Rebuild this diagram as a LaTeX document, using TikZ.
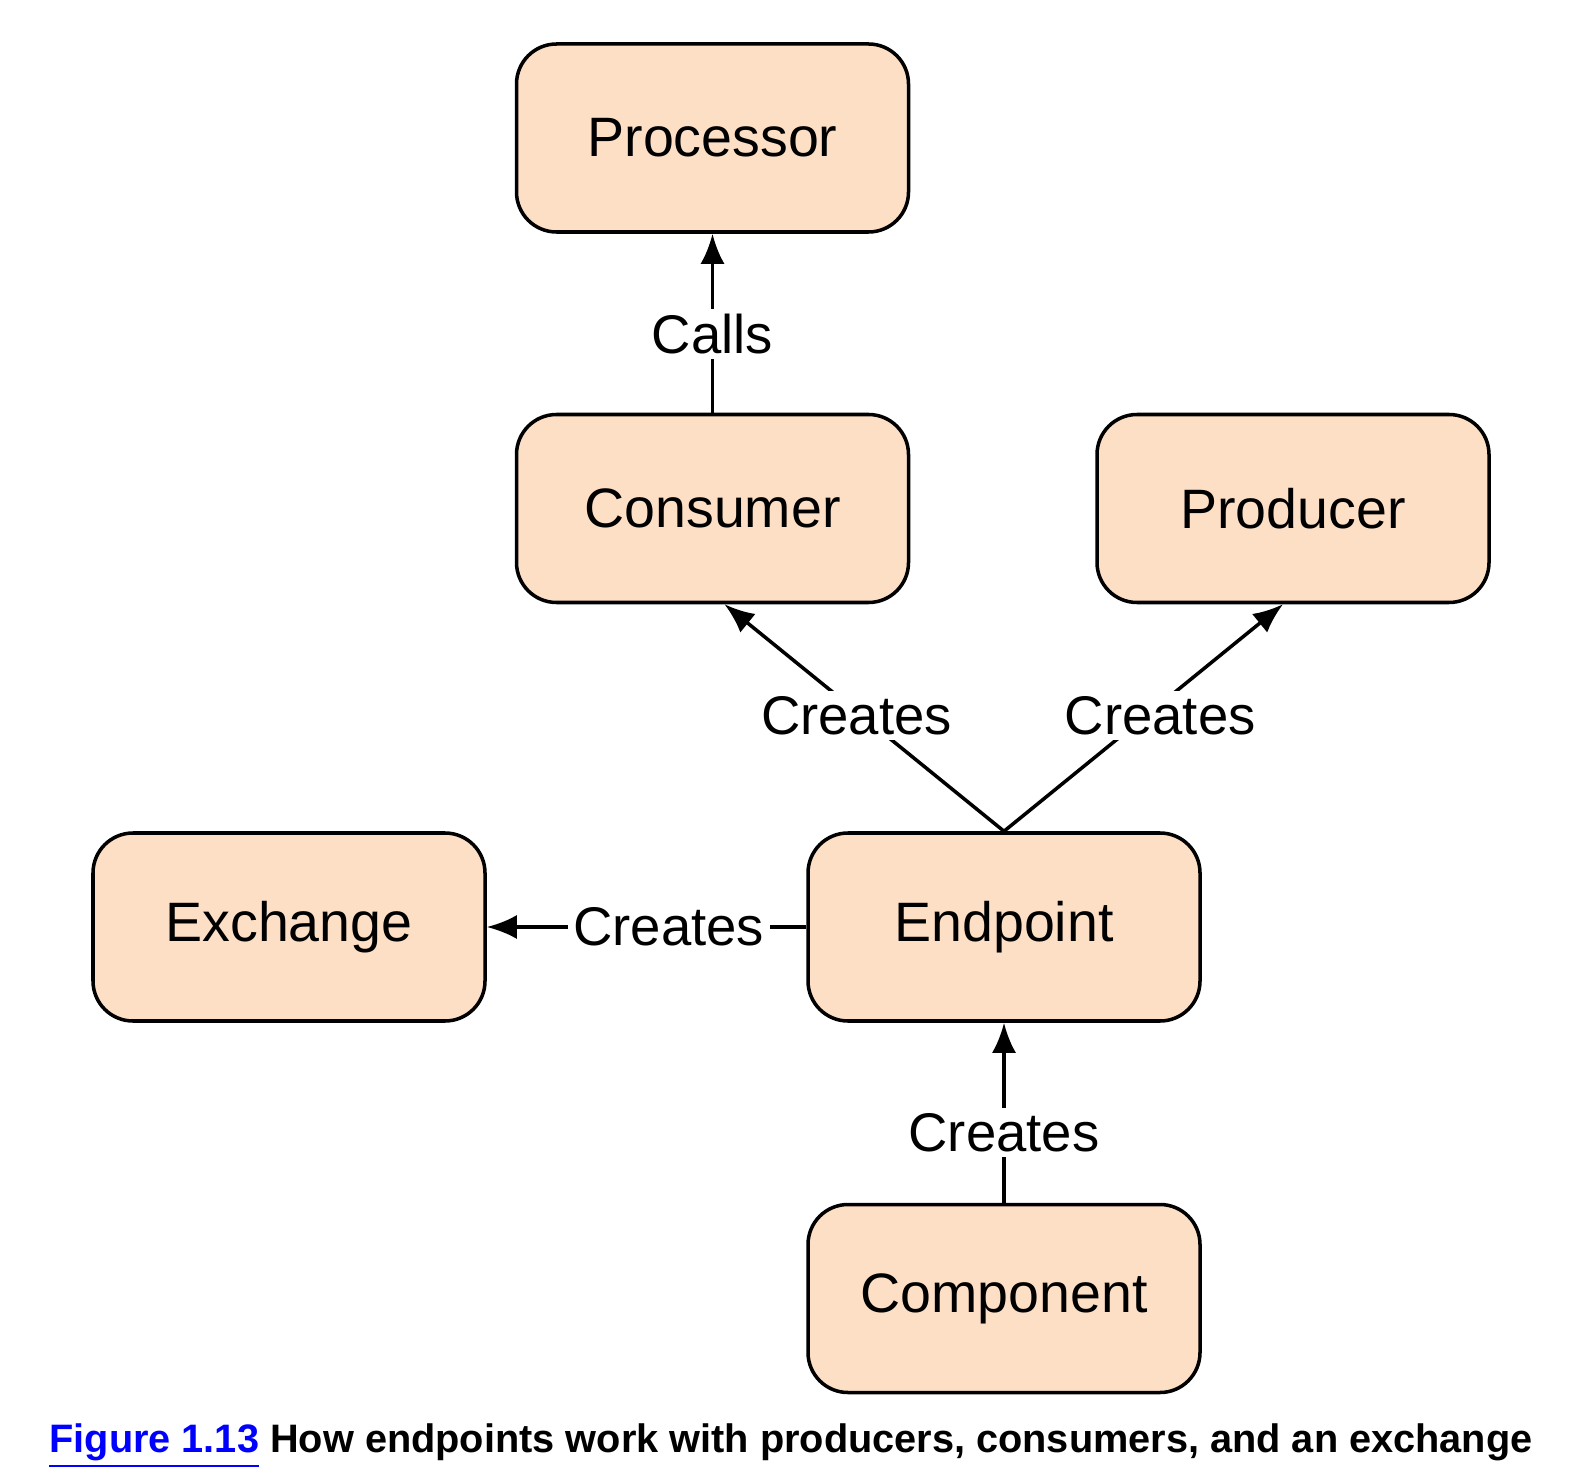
\documentclass[tikz,border=0pt]{standalone}
\usepackage{fontspec}
\setmainfont{Liberation Sans}
\usetikzlibrary{arrows.meta}
\definecolor{peach}{RGB}{253,223,198}

\begin{document}
\begin{tikzpicture}[
	box/.style={draw, line width=1pt, fill=peach, rounded corners=0.4cm, minimum width=3.92cm, minimum height=1.88cm, font=\fontsize{15.8}{19}\selectfont},
	lbl/.style={fill=white, inner sep=1.5pt, font=\fontsize{15.5}{18}\selectfont},
	link/.style={line width=1pt, -{Latex[length=0.3cm,width=0.24cm]}}]
	\useasboundingbox (0,0) rectangle (15.88,14.80);
	\node[box] (proc) at (7.125,13.42) {Processor};
	\node[box] (cons) at (7.125,9.715) {Consumer};
	\node[box] (prod) at (12.93,9.715) {Producer};
	\node[box] (exch) at (2.89,5.53) {Exchange};
	\node[box] (endp) at (10.04,5.53) {Endpoint};
	\node[box] (comp) at (10.04,1.815) {Component};
	\coordinate (cons-in) at ([xshift=0.12cm]cons.south);
	\coordinate (prod-in) at ([xshift=-0.1cm]prod.south);
	\draw[link] (cons) -- node[lbl,pos=0.44] (calls) {Calls} (proc);
	\draw[link] (endp.north) -- node[lbl,pos=0.51,xshift=-0.05cm] (crcons) {Creates} (cons-in);
	\draw[link] (endp.north) -- node[lbl,pos=0.51,xshift=0.14cm] (crprod) {Creates} (prod-in);
	\draw[link] (endp) -- node[lbl,pos=0.43] (crexch) {Creates} (exch);
	\draw[link] (comp) -- node[lbl,pos=0.39] (crendp) {Creates} (endp);
	\node[font=\bfseries\fontsize{11.3}{13}\selectfont] (caption) at (7.91,0.34) {\textcolor{blue}{\underline{Figure 1.13}} How endpoints work with producers, consumers, and an exchange};
\end{tikzpicture}
\end{document}
